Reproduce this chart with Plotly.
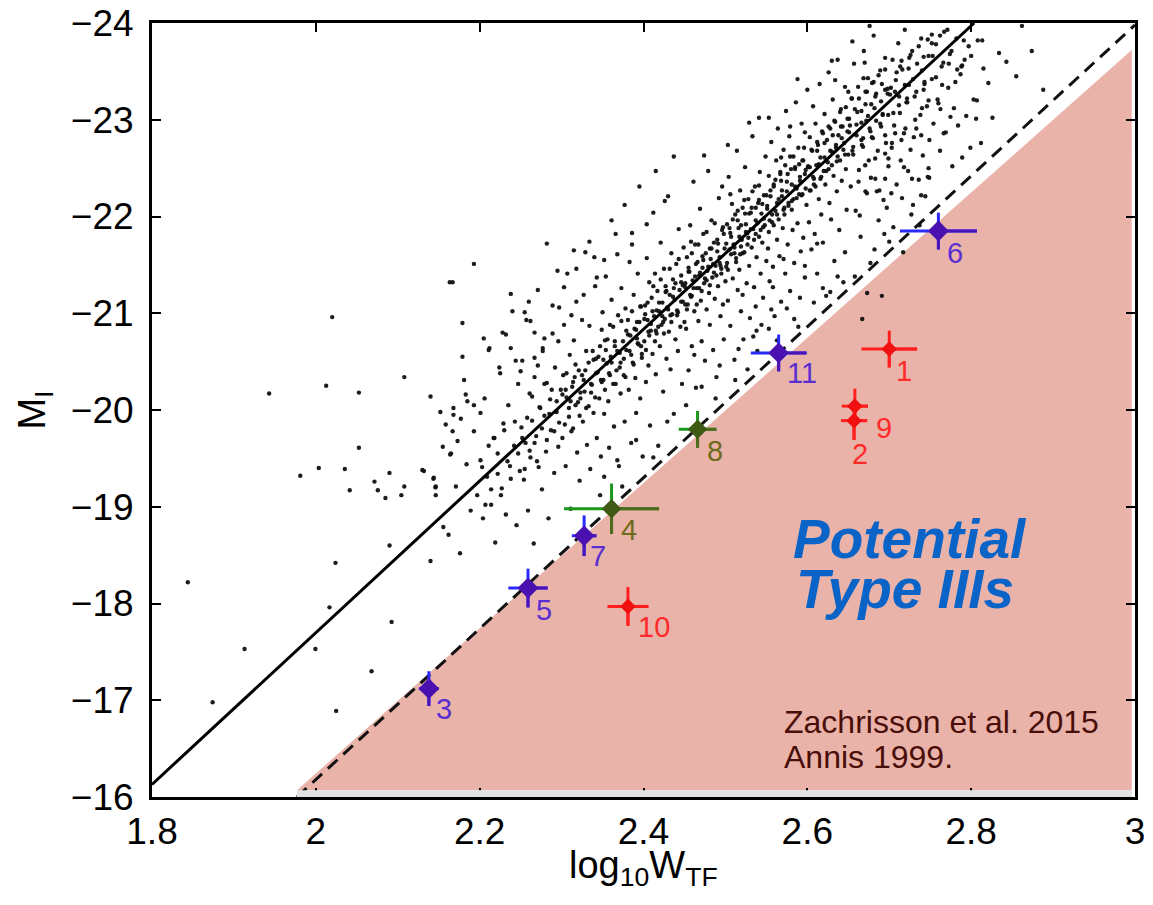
import plotly.graph_objects as go

# ---------------- data ----------------
# Tully-Fisher reference lines
SOLID_X = [1.8, 2.8037]
SOLID_M = [-16.13, -24.0]
DASH_X = [1.977, 3.0]
DASH_M = [-16.0, -23.98]

# shaded "potential Type III" region
SHADE_X = [1.977, 2.996, 2.996]
SHADE_M = [-16.07, -23.72, -16.07]

# sparse outliers, read individually
OUTLIERS = [
    (2.020, -20.96), (2.108, -20.34), (2.0126, -20.25), (1.943, -20.17), (2.0526, -20.18),
    (2.140, -20.14), (2.152, -19.98), (2.1586, -19.85), (2.0526, -19.61), (1.981, -19.32),
    (2.0036, -19.40), (2.0354, -19.39), (2.0899, -19.35), (2.130, -19.38), (2.1435, -19.29),
    (2.0716, -19.26), (2.0757, -19.17), (2.0414, -19.17), (2.085, -19.09), (2.1044, -19.12),
    (2.108, -19.21), (2.1464, -19.21), (2.1464, -19.12), (2.1556, -18.79), (2.090, -18.60),
    (2.024, -18.42), (2.140, -18.44), (2.1635, -21.32), (2.164, -19.54),
    (1.8437, -18.22), (2.0167, -17.96), (2.0925, -17.81), (1.913, -17.53), (1.9995, -17.53),
    (2.068, -17.30), (1.874, -16.98), (2.0248, -16.89),
    (2.193, -21.51), (2.167, -21.32), (2.238, -21.20), (2.260, -21.12), (2.255, -21.01),
    (2.295, -21.44), (2.282, -21.72), (2.315, -21.65), (2.340, -21.58), (2.179, -20.90),
    (2.205, -20.74), (2.179, -20.55), (2.211, -20.62), (2.168, -20.02), (2.183, -20.16),
    (2.185, -20.09), (2.193, -20.05), (2.201, -19.97), (2.177, -19.91), (2.167, -19.78),
    (2.173, -19.68), (2.165, -19.55), (2.132, -19.37), (2.144, -19.30), (2.146, -19.20),
    (2.228, -20.80), (2.232, -20.78), (2.238, -20.64), (2.224, -20.44), (2.244, -20.51),
    (2.250, -20.40), (2.267, -20.80), (2.279, -20.74), (2.267, -20.54), (2.277, -20.64),
    (2.534, -20.76), (2.553, -20.84),
]

# upper part of the cloud, read individually
UPPER = [
    (2.752, -23.88), (2.752, -23.79), (2.8135, -23.82), (2.843, -23.60), (2.855, -23.45),
    (2.807, -23.20), (2.806, -23.01), (2.7665, -22.86), (2.789, -23.56), (2.800, -23.66),
    (2.7727, -23.58), (2.7807, -23.39), (2.7645, -23.36), (2.7747, -23.03), (2.739, -22.84),
    (2.748, -22.50), (2.7488, -22.40), (2.7278, -22.39), (2.718, -22.51), (2.7389, -22.22),
    (2.7156, -22.19), (2.7025, -22.24), (2.6849, -22.26), (2.6727, -22.24), (2.6776, -22.40),
    (2.6625, -22.36), (2.695, -22.39), (2.7149, -22.79), (2.73, -22.82), (2.740, -23.12),
    (2.7625, -23.11), (2.7118, -23.15), (2.6987, -23.05), (2.7236, -23.53), (2.7134, -23.55),
    (2.742, -23.65), (2.7244, -23.64), (2.670, -23.59), (2.6686, -23.43), (2.681, -23.39),
    (2.691, -23.37), (2.6727, -23.29), (2.707, -23.29), (2.742, -23.31), (2.7217, -23.22),
    (2.748, -23.20), (2.760, -23.17), (2.7317, -23.00), (2.7197, -22.91), (2.7072, -22.86),
    (2.695, -22.84), (2.6788, -22.82), (2.6666, -22.74), (2.7033, -22.76), (2.695, -22.65),
    (2.6828, -22.60), (2.6706, -22.53), (2.699, -22.60), (2.6544, -23.22), (2.6299, -23.61),
    (2.634, -23.41), (2.650, -23.29), (2.788, -23.55),
]

# main body of the cloud (estimated positions)
CORE = [
    (2.155, -19.62), (2.162, -18.71), (2.168, -19.95), (2.171, -19.21), (2.176, -18.52),
    (2.181, -20.31), (2.184, -19.44), (2.189, -18.96), (2.193, -19.78), (2.197, -19.12),
    (2.201, -19.48), (2.204, -18.88), (2.206, -20.12), (2.209, -19.31), (2.212, -20.64),
    (2.214, -19.02), (2.217, -19.71), (2.219, -18.63), (2.222, -19.55), (2.225, -20.38),
    (2.227, -19.19), (2.229, -19.86), (2.232, -18.92), (2.235, -20.05), (2.237, -19.42),
    (2.240, -21.02), (2.242, -19.63), (2.245, -18.81), (2.247, -20.27), (2.249, -19.37),
    (2.251, -19.82), (2.252, -20.51), (2.254, -19.28), (2.256, -19.66), (2.257, -20.93),
    (2.259, -18.96), (2.261, -20.17), (2.262, -19.51), (2.264, -19.89), (2.266, -18.62),
    (2.267, -20.34), (2.269, -19.73), (2.271, -21.24), (2.272, -19.41), (2.274, -20.02),
    (2.276, -19.18), (2.277, -20.61), (2.279, -19.94), (2.281, -19.57), (2.282, -20.28),
    (2.284, -18.88), (2.286, -20.11), (2.287, -19.79), (2.289, -20.79), (2.291, -19.35),
    (2.292, -20.44), (2.294, -19.98), (2.296, -19.62), (2.297, -21.06), (2.299, -20.21),
    (2.301, -19.71), (2.302, -20.36), (2.303, -20.88), (2.305, -19.42), (2.306, -20.13),
    (2.307, -21.41), (2.309, -19.93), (2.310, -20.57), (2.311, -18.98), (2.313, -20.24),
    (2.314, -19.81), (2.315, -20.72), (2.317, -20.05), (2.318, -21.12), (2.319, -19.56),
    (2.321, -20.41), (2.322, -19.27), (2.323, -20.18), (2.325, -20.93), (2.326, -19.88),
    (2.327, -20.31), (2.329, -21.63), (2.330, -20.02), (2.331, -19.64), (2.333, -20.49),
    (2.334, -20.87), (2.335, -19.39), (2.337, -20.26), (2.338, -20.61), (2.339, -19.97),
    (2.341, -21.28), (2.342, -20.38), (2.343, -19.71), (2.345, -20.55), (2.346, -20.12),
    (2.347, -19.12), (2.349, -20.83), (2.349, -20.29), (2.350, -21.01), (2.348, -19.52),
    (2.351, -20.31), (2.352, -19.96), (2.353, -20.72), (2.354, -21.38), (2.355, -20.48),
    (2.357, -20.09), (2.358, -19.61), (2.359, -20.88), (2.360, -20.55), (2.361, -21.14),
    (2.363, -20.27), (2.364, -19.83), (2.365, -20.66), (2.366, -21.82), (2.367, -20.41),
    (2.369, -20.98), (2.370, -19.42), (2.371, -20.59), (2.372, -20.17), (2.373, -21.26),
    (2.375, -20.71), (2.376, -20.36), (2.377, -19.88), (2.378, -21.05), (2.379, -20.62),
    (2.381, -20.93), (2.382, -20.21), (2.383, -21.53), (2.384, -20.77), (2.385, -19.66),
    (2.387, -20.49), (2.388, -21.19), (2.389, -20.84), (2.390, -20.33), (2.391, -19.97),
    (2.393, -21.41), (2.394, -20.68), (2.395, -20.91), (2.396, -20.12), (2.397, -21.07),
    (2.398, -20.54), (2.399, -19.52), (2.392, -20.74), (2.386, -21.71), (2.374, -19.21),
    (2.401, -20.71), (2.402, -21.08), (2.403, -20.29), (2.404, -21.57), (2.405, -20.93),
    (2.406, -20.46), (2.407, -21.32), (2.408, -19.84), (2.409, -20.82), (2.410, -21.16),
    (2.411, -20.58), (2.412, -22.04), (2.413, -20.97), (2.414, -21.41), (2.415, -20.37),
    (2.416, -20.79), (2.417, -21.23), (2.418, -19.63), (2.419, -21.02), (2.420, -20.66),
    (2.421, -21.73), (2.422, -20.88), (2.423, -21.11), (2.424, -20.19), (2.425, -21.46),
    (2.426, -20.94), (2.427, -21.28), (2.428, -20.53), (2.429, -21.06), (2.430, -22.21),
    (2.431, -20.81), (2.432, -21.19), (2.433, -20.42), (2.434, -21.62), (2.435, -20.99),
    (2.436, -21.35), (2.437, -19.96), (2.438, -21.14), (2.439, -20.73), (2.440, -21.51),
    (2.441, -21.03), (2.442, -20.61), (2.443, -21.87), (2.444, -21.24), (2.445, -20.86),
    (2.446, -21.39), (2.447, -20.27), (2.448, -21.12), (2.449, -21.68), (2.450, -20.91),
    (2.451, -21.27), (2.452, -20.84), (2.453, -21.58), (2.454, -21.09), (2.455, -20.41),
    (2.456, -21.43), (2.457, -21.91), (2.458, -21.17), (2.459, -20.66), (2.460, -21.34),
    (2.461, -22.36), (2.462, -21.02), (2.463, -21.71), (2.464, -20.23), (2.465, -21.26),
    (2.466, -21.53), (2.467, -20.92), (2.468, -21.39), (2.469, -22.08), (2.470, -21.13),
    (2.471, -20.71), (2.472, -21.47), (2.473, -21.82), (2.474, -21.31), (2.475, -20.51),
    (2.476, -21.62), (2.477, -21.04), (2.478, -21.44), (2.479, -22.47), (2.480, -21.21),
    (2.481, -20.88), (2.482, -21.56), (2.483, -21.96), (2.484, -21.37), (2.485, -20.62),
    (2.486, -21.73), (2.487, -21.15), (2.488, -21.49), (2.489, -20.34), (2.490, -21.64),
    (2.491, -21.28), (2.492, -22.19), (2.493, -21.52), (2.494, -20.97), (2.495, -21.41),
    (2.496, -21.86), (2.497, -21.09), (2.498, -20.73), (2.499, -21.67), (2.500, -21.33),
    (2.462, -20.57), (2.474, -22.63), (2.488, -20.12), (2.496, -22.31), (2.458, -21.74),
    (2.501, -21.48), (2.502, -21.92), (2.503, -21.13), (2.504, -22.41), (2.505, -21.66),
    (2.506, -20.87), (2.507, -21.79), (2.508, -22.13), (2.509, -21.36), (2.510, -21.71),
    (2.511, -20.52), (2.512, -22.02), (2.513, -21.57), (2.514, -22.68), (2.515, -21.24),
    (2.516, -21.88), (2.517, -21.45), (2.518, -22.27), (2.519, -21.02), (2.520, -21.76),
    (2.521, -22.09), (2.522, -20.73), (2.523, -21.63), (2.524, -22.51), (2.525, -21.92),
    (2.526, -21.31), (2.527, -21.83), (2.528, -22.18), (2.529, -21.49), (2.530, -20.95),
    (2.531, -22.04), (2.532, -21.68), (2.533, -22.83), (2.534, -21.87), (2.535, -21.27),
    (2.536, -22.31), (2.537, -21.96), (2.538, -21.58), (2.539, -20.61), (2.540, -22.14),
    (2.541, -21.79), (2.542, -22.46), (2.543, -21.41), (2.544, -22.03), (2.545, -21.73),
    (2.546, -21.16), (2.547, -22.22), (2.548, -21.91), (2.549, -22.62), (2.550, -21.54),
    (2.503, -22.74), (2.512, -20.31), (2.521, -21.19), (2.529, -22.97), (2.537, -21.07),
    (2.544, -20.88), (2.506, -22.23), (2.518, -21.61), (2.527, -20.42), (2.541, -23.02),
    (2.551, -22.08), (2.552, -21.67), (2.553, -22.42), (2.554, -21.33), (2.555, -22.21),
    (2.556, -22.77), (2.557, -21.94), (2.558, -21.48), (2.559, -22.33), (2.560, -20.97),
    (2.561, -22.06), (2.562, -22.58), (2.563, -21.76), (2.564, -22.91), (2.565, -22.18),
    (2.566, -21.59), (2.567, -22.44), (2.568, -21.12), (2.569, -22.27), (2.570, -21.88),
    (2.571, -22.69), (2.572, -22.02), (2.573, -21.41), (2.574, -23.09), (2.575, -22.36),
    (2.576, -21.71), (2.577, -22.14), (2.578, -22.83), (2.579, -21.23), (2.580, -22.49),
    (2.581, -22.07), (2.582, -21.86), (2.583, -22.62), (2.584, -21.52), (2.585, -22.31),
    (2.586, -23.18), (2.587, -22.19), (2.588, -21.93), (2.589, -20.86), (2.590, -22.54),
    (2.591, -22.41), (2.592, -21.64), (2.593, -22.96), (2.594, -22.23), (2.595, -21.78),
    (2.596, -22.71), (2.597, -21.37), (2.598, -22.48), (2.599, -22.12), (2.600, -23.31),
    (2.556, -21.04), (2.563, -20.72), (2.571, -21.56), (2.579, -22.93), (2.584, -20.94),
    (2.591, -21.16), (2.597, -22.87), (2.553, -23.02), (2.568, -22.61), (2.588, -23.42),
    (2.601, -22.51), (2.602, -21.94), (2.603, -22.82), (2.604, -22.27), (2.605, -21.66),
    (2.606, -22.68), (2.607, -23.14), (2.608, -22.39), (2.609, -21.82), (2.610, -22.96),
    (2.611, -22.53), (2.612, -21.41), (2.613, -22.74), (2.614, -22.18), (2.615, -23.37),
    (2.616, -22.61), (2.617, -22.02), (2.618, -22.88), (2.619, -21.73), (2.620, -22.47),
    (2.621, -23.06), (2.622, -22.33), (2.623, -21.18), (2.624, -22.79), (2.625, -22.56),
    (2.626, -23.49), (2.627, -22.14), (2.628, -22.91), (2.629, -21.97), (2.630, -22.67),
    (2.631, -23.21), (2.632, -22.42), (2.633, -21.54), (2.634, -22.98), (2.635, -22.71),
    (2.636, -22.26), (2.637, -23.62), (2.638, -22.84), (2.639, -21.86), (2.640, -22.58),
    (2.641, -23.11), (2.642, -22.37), (2.643, -22.93), (2.644, -21.32), (2.645, -22.76),
    (2.646, -23.34), (2.647, -22.49), (2.648, -22.07), (2.649, -23.01), (2.650, -22.64),
    (2.608, -21.11), (2.619, -21.26), (2.628, -21.22), (2.637, -21.38), (2.646, -21.63),
    (2.651, -22.87), (2.653, -22.31), (2.654, -23.22), (2.656, -22.64), (2.657, -23.58),
    (2.659, -22.06), (2.660, -22.95), (2.662, -23.34), (2.663, -22.48), (2.665, -21.79),
    (2.666, -23.09), (2.668, -22.72), (2.669, -23.71), (2.671, -22.26), (2.672, -22.99),
    (2.674, -23.43), (2.675, -22.58), (2.677, -21.52), (2.678, -23.16), (2.680, -22.81),
    (2.681, -23.87), (2.683, -22.39), (2.684, -23.27), (2.686, -22.68), (2.687, -21.96),
    (2.689, -23.51), (2.690, -22.93), (2.692, -23.05), (2.693, -22.17), (2.695, -23.64),
    (2.696, -22.76), (2.698, -23.32), (2.699, -22.52), (2.700, -21.74), (2.658, -21.38),
    (2.667, -20.94), (2.673, -21.21), (2.682, -21.66), (2.691, -21.18), (2.697, -22.09),
    (2.655, -23.81), (2.664, -22.01), (2.676, -23.97), (2.688, -22.27), (2.694, -21.82),
    (2.701, -23.26), (2.703, -22.71), (2.704, -23.62), (2.706, -22.94), (2.708, -23.41),
    (2.709, -22.33), (2.711, -23.79), (2.713, -23.07), (2.714, -22.58), (2.716, -23.52),
    (2.718, -22.86), (2.719, -23.93), (2.721, -23.18), (2.723, -22.47), (2.724, -23.36),
    (2.726, -22.69), (2.728, -23.71), (2.729, -22.12), (2.731, -23.24), (2.733, -22.91),
    (2.734, -23.58), (2.736, -22.38), (2.738, -23.05), (2.739, -23.84), (2.741, -22.63),
    (2.743, -23.39), (2.744, -22.21), (2.746, -23.14), (2.748, -23.66), (2.749, -22.79),
    (2.705, -21.89), (2.717, -21.63), (2.727, -22.02), (2.737, -21.91), (2.747, -22.41),
    (2.752, -23.42), (2.754, -22.96), (2.757, -23.78), (2.759, -23.21), (2.762, -22.68),
    (2.764, -23.55), (2.767, -23.91), (2.769, -22.87), (2.772, -23.33), (2.774, -23.68),
    (2.777, -22.52), (2.779, -23.12), (2.782, -23.84), (2.784, -22.94), (2.787, -23.47),
    (2.789, -22.61), (2.792, -23.62), (2.794, -23.04), (2.797, -23.76), (2.799, -22.71),
    (2.803, -23.21), (2.808, -23.82), (2.812, -22.76), (2.815, -23.53), (2.821, -23.38),
    (2.826, -23.02), (2.834, -23.69), (2.862, -23.97), (2.874, -23.71), (2.888, -23.31),
]

# points crowding along the ridge of the cloud (estimated positions)
RIDGE = [
    (2.203, -19.41), (2.207, -19.02), (2.211, -19.63), (2.214, -19.18), (2.218, -19.71),
    (2.222, -19.34), (2.226, -19.12), (2.230, -19.79), (2.234, -19.47), (2.238, -19.29),
    (2.243, -19.88), (2.247, -19.55), (2.252, -19.71), (2.255, -19.39), (2.258, -19.92),
    (2.261, -19.58), (2.264, -20.14), (2.267, -19.66), (2.270, -19.47), (2.273, -20.03),
    (2.276, -19.81), (2.279, -20.27), (2.282, -19.69), (2.285, -19.96), (2.288, -20.21),
    (2.291, -19.78), (2.294, -20.09), (2.297, -19.87), (2.301, -20.16), (2.304, -19.85),
    (2.306, -20.38), (2.309, -20.02), (2.312, -19.78), (2.314, -20.29), (2.317, -20.47),
    (2.320, -20.08), (2.322, -19.94), (2.325, -20.36), (2.328, -20.19), (2.330, -20.61),
    (2.333, -20.04), (2.336, -20.27), (2.339, -20.52), (2.341, -20.13), (2.344, -20.39),
    (2.347, -20.66), (2.351, -20.52), (2.353, -20.21), (2.356, -20.73), (2.358, -20.38),
    (2.361, -20.49), (2.363, -20.86), (2.366, -20.27), (2.368, -20.61), (2.371, -20.44),
    (2.373, -20.92), (2.376, -20.53), (2.378, -20.34), (2.381, -20.78), (2.383, -20.61),
    (2.386, -21.02), (2.388, -20.47), (2.391, -20.83), (2.393, -20.69), (2.396, -21.07),
    (2.398, -20.58), (2.401, -20.94), (2.403, -20.62), (2.405, -21.11), (2.407, -20.77),
    (2.409, -20.89), (2.412, -21.28), (2.414, -20.71), (2.416, -21.03), (2.418, -20.86),
    (2.421, -21.35), (2.423, -20.97), (2.425, -20.79), (2.427, -21.22), (2.430, -21.04),
    (2.432, -21.46), (2.434, -20.91), (2.436, -21.17), (2.439, -21.31), (2.441, -20.98),
    (2.443, -21.56), (2.446, -21.12), (2.448, -21.29), (2.451, -21.31), (2.453, -21.04),
    (2.455, -21.47), (2.457, -21.19), (2.459, -21.62), (2.461, -21.26), (2.463, -21.38),
    (2.465, -21.09), (2.467, -21.71), (2.469, -21.42), (2.471, -21.23), (2.473, -21.55),
    (2.475, -21.36), (2.477, -21.84), (2.479, -21.48), (2.481, -21.29), (2.483, -21.67),
    (2.485, -21.51), (2.487, -21.93), (2.489, -21.39), (2.491, -21.72), (2.493, -21.58),
    (2.495, -21.46), (2.497, -21.89), (2.501, -21.72), (2.503, -21.45), (2.505, -21.88),
    (2.507, -21.61), (2.509, -21.97), (2.511, -21.68), (2.513, -21.53), (2.515, -22.06),
    (2.517, -21.79), (2.519, -21.91), (2.521, -21.62), (2.523, -22.17), (2.525, -21.84),
    (2.527, -21.71), (2.529, -22.03), (2.531, -21.87), (2.533, -22.26), (2.535, -21.76),
    (2.537, -22.09), (2.539, -21.93), (2.541, -22.32), (2.543, -21.86), (2.545, -22.13),
    (2.547, -21.98), (2.551, -22.11), (2.553, -21.84), (2.555, -22.27), (2.557, -22.02),
    (2.559, -21.91), (2.561, -22.38), (2.563, -22.14), (2.565, -21.97), (2.567, -22.46),
    (2.569, -22.21), (2.571, -22.07), (2.573, -22.53), (2.575, -22.26), (2.577, -22.11),
    (2.579, -22.62), (2.581, -22.33), (2.583, -22.18), (2.585, -22.49), (2.587, -22.29),
    (2.589, -22.71), (2.591, -22.37), (2.593, -22.22), (2.595, -22.58), (2.597, -22.44),
    (2.601, -22.52), (2.603, -22.27), (2.605, -22.69), (2.607, -22.41), (2.610, -22.31),
    (2.612, -22.77), (2.614, -22.54), (2.616, -22.39), (2.619, -22.86), (2.621, -22.61),
    (2.623, -22.47), (2.626, -22.93), (2.628, -22.68), (2.630, -22.53), (2.633, -22.99),
    (2.635, -22.74), (2.637, -22.62), (2.640, -23.08), (2.642, -22.81), (2.644, -22.69),
    (2.647, -23.13), (2.649, -22.88), (2.652, -22.94), (2.655, -22.68), (2.658, -23.11),
    (2.660, -22.84), (2.663, -23.22), (2.666, -22.97), (2.668, -22.81), (2.671, -23.29),
    (2.674, -23.04), (2.676, -22.91), (2.679, -23.38), (2.682, -23.12), (2.684, -22.99),
    (2.687, -23.46), (2.690, -23.19), (2.692, -23.06), (2.695, -23.52), (2.698, -23.27),
    (2.702, -23.33), (2.705, -23.07), (2.709, -23.49), (2.712, -23.24), (2.715, -23.61),
    (2.719, -23.36), (2.722, -23.18), (2.726, -23.67), (2.729, -23.42), (2.733, -23.29),
    (2.736, -23.76), (2.740, -23.51), (2.743, -23.37), (2.747, -23.83), (2.753, -23.66),
    (2.757, -23.44), (2.762, -23.87), (2.766, -23.59), (2.771, -23.93), (2.776, -23.71),
    (2.783, -23.52), (2.791, -23.82),
    # upper-left fringe
    (2.262, -20.92), (2.271, -20.46), (2.289, -21.08), (2.296, -20.71), (2.303, -21.27),
    (2.312, -20.98), (2.318, -21.46), (2.327, -21.19), (2.334, -21.74), (2.343, -21.37),
    (2.352, -21.55), (2.361, -21.96), (2.368, -21.61), (2.377, -22.12), (2.386, -21.83),
    (2.395, -22.31), (2.404, -21.92), (2.415, -22.47), (2.426, -22.16), (2.437, -22.62),
    # lower fringe, above the dashed line
    (2.352, -19.31), (2.368, -19.48), (2.391, -19.69), (2.412, -19.51), (2.429, -19.88),
    (2.452, -20.05), (2.471, -20.24), (2.493, -20.46), (2.516, -20.63), (2.538, -20.82),
    (2.558, -21.27), (2.575, -21.05), (2.597, -21.49), (2.612, -21.72),
    # densest stretch of the ridge
    (2.305, -20.21), (2.311, -20.09), (2.316, -20.34), (2.323, -20.12), (2.329, -20.41),
    (2.336, -20.18), (2.342, -20.53), (2.348, -20.31), (2.354, -20.62), (2.359, -20.36),
    (2.365, -20.71), (2.372, -20.49), (2.379, -20.82), (2.385, -20.57), (2.392, -20.91),
    (2.397, -20.66), (2.402, -20.99), (2.406, -20.81), (2.411, -21.02), (2.415, -20.82),
    (2.419, -21.11), (2.424, -20.91), (2.428, -21.23), (2.433, -20.98), (2.437, -21.26),
    (2.442, -21.01), (2.446, -21.32), (2.451, -21.09), (2.455, -21.43), (2.459, -21.18),
    (2.464, -21.51), (2.468, -21.26), (2.472, -21.59), (2.477, -21.34), (2.481, -21.67),
    (2.486, -21.42), (2.490, -21.76), (2.494, -21.49), (2.498, -21.82), (2.502, -21.52),
    (2.506, -21.83), (2.511, -21.62), (2.515, -21.96), (2.519, -21.69), (2.524, -22.03),
    (2.528, -21.78), (2.532, -22.09), (2.537, -21.82), (2.541, -22.17), (2.546, -21.89),
    (2.550, -22.22), (2.554, -21.96), (2.559, -22.31), (2.563, -22.02), (2.568, -22.37),
    (2.572, -22.09), (2.576, -22.44), (2.581, -22.16), (2.585, -22.51), (2.590, -22.23),
    (2.594, -22.58), (2.598, -22.29), (2.603, -22.51), (2.608, -22.33), (2.612, -22.68),
    (2.617, -22.41), (2.621, -22.76), (2.626, -22.49), (2.631, -22.84), (2.636, -22.57),
    (2.641, -22.93), (2.646, -22.64), (2.651, -23.01), (2.656, -22.72), (2.661, -23.08),
    (2.666, -22.79), (2.671, -23.16), (2.677, -22.88), (2.683, -23.24), (2.689, -22.96),
    (2.695, -23.31),
]

# the eleven labelled galaxies with error bars
GAL_LABEL = ["1", "2", "3", "4", "5", "6", "7", "8", "9", "10", "11"]
GAL_X = [2.700, 2.657, 2.138, 2.361, 2.259, 2.760, 2.3275, 2.466, 2.658, 2.381, 2.565]
GAL_M = [-20.63, -19.89, -17.12, -18.98, -18.16, -21.85, -18.70, -19.80, -20.04, -17.97, -20.59]
GAL_XERR = [0.034, 0.016, 0.012, 0.058, 0.024, 0.047, 0.015, 0.023, 0.016, 0.025, 0.034]
GAL_MERR = [0.19, 0.20, 0.18, 0.26, 0.20, 0.19, 0.21, 0.19, 0.18, 0.20, 0.19]
GAL_GROUP = ["red", "red", "blue", "green", "blue", "blue", "blue", "green", "red", "red", "blue"]

X_TICKS = [1.8, 2.0, 2.2, 2.4, 2.6, 2.8, 3.0]
M_TICKS = [-24, -23, -22, -21, -20, -19, -18, -17, -16]

# ---------------- styles ----------------
FONT = "Liberation Sans, Arial, Helvetica, sans-serif"
PALETTE = {
    "red":   dict(bar1="#ff1f1f", bar2="#ff1f1f", marker="#f01010", text="#ff2a2a", size=12),
    "blue":  dict(bar1="#2a2aff", bar2="#4a14b8", marker="#4a10b0", text="#5a2ed0", size=16),
    "green": dict(bar1="#1c961c", bar2="#4f6a1e", marker="#3f5a14", text="#6f6c1c", size=15),
}
# pixel offsets (right, down) of each number label from its galaxy
LABEL_OFFSET = {"1": (15, 22), "2": (6, 33), "3": (15, 20), "4": (17, 21), "5": (16, 22),
                "6": (17, 22), "7": (14, 20), "8": (17, 22), "9": (29, 22), "10": (26, 21),
                "11": (23, 20)}

fig = go.Figure()

# shaded region
fig.add_trace(go.Scatter(x=SHADE_X + [SHADE_X[0]], y=SHADE_M + [SHADE_M[0]], mode="lines",
                         fill="toself", fillcolor="#e9b3aa", line=dict(width=0),
                         hoverinfo="skip", showlegend=False))
fig.add_shape(type="rect", xref="x", yref="y", x0=SHADE_X[0], x1=SHADE_X[1],
              y0=M_TICKS[-1], y1=SHADE_M[0], fillcolor="#e2e2e2", line=dict(width=0),
              layer="above")

# cloud of galaxies
cloud = OUTLIERS + UPPER + CORE + RIDGE
fig.add_trace(go.Scatter(x=[p[0] for p in cloud], y=[p[1] for p in cloud], mode="markers",
                         marker=dict(size=4.4, color="#111111", opacity=0.95, line=dict(width=0)),
                         hoverinfo="skip", showlegend=False))

# relation lines
fig.add_trace(go.Scatter(x=SOLID_X, y=SOLID_M, mode="lines",
                         line=dict(color="black", width=3), showlegend=False))
fig.add_trace(go.Scatter(x=DASH_X, y=DASH_M, mode="lines",
                         line=dict(color="#111111", width=3, dash="13px,8px"), showlegend=False))

# error-bar points
for grp in ["blue", "green", "red"]:
    idx = [i for i, g in enumerate(GAL_GROUP) if g == grp]
    st = PALETTE[grp]
    xs = [GAL_X[i] for i in idx]
    ms = [GAL_M[i] for i in idx]
    xe = [GAL_XERR[i] for i in idx]
    me = [GAL_MERR[i] for i in idx]
    zeros = [0] * len(idx)
    fig.add_trace(go.Scatter(
        x=xs, y=ms, mode="markers", marker=dict(size=1, color=st["bar1"], opacity=0),
        error_x=dict(type="data", array=xe, arrayminus=xe, color=st["bar1"], thickness=3, width=0),
        error_y=dict(type="data", array=me, arrayminus=me, color=st["bar1"], thickness=3, width=0),
        showlegend=False, hoverinfo="skip"))
    fig.add_trace(go.Scatter(
        x=xs, y=ms, mode="markers",
        marker=dict(symbol="diamond", size=st["size"], color=st["marker"], line=dict(width=0)),
        error_x=dict(type="data", array=xe, arrayminus=zeros, color=st["bar2"], thickness=3, width=0),
        error_y=dict(type="data", array=me, arrayminus=zeros, color=st["bar2"], thickness=3, width=0),
        showlegend=False, hoverinfo="skip"))

for lab, x, m, grp in zip(GAL_LABEL, GAL_X, GAL_M, GAL_GROUP):
    dx, dy = LABEL_OFFSET[lab]
    fig.add_annotation(x=x, y=m, xref="x", yref="y", text=lab, showarrow=False,
                       xshift=dx, yshift=-dy, xanchor="center", yanchor="middle",
                       font=dict(family=FONT, size=29, color=PALETTE[grp]["text"]))

# text annotations
fig.add_annotation(x=2.580, y=-18.67, xref="x", yref="y", text="Potential", showarrow=False,
                   xanchor="left", yanchor="middle",
                   font=dict(family=FONT, size=55, color="#0a64c8", weight="bold", style="italic"))
fig.add_annotation(x=2.584, y=-18.15, xref="x", yref="y", text="Type IIIs", showarrow=False,
                   xanchor="left", yanchor="middle",
                   font=dict(family=FONT, size=55, color="#0a64c8", weight="bold", style="italic"))
fig.add_annotation(x=2.5687, y=-16.78, xref="x", yref="y", text="Zachrisson et al. 2015",
                   showarrow=False, xanchor="left", yanchor="middle",
                   font=dict(family=FONT, size=32, color="#4a0e08"))
fig.add_annotation(x=2.5687, y=-16.41, xref="x", yref="y", text="Annis 1999.",
                   showarrow=False, xanchor="left", yanchor="middle",
                   font=dict(family=FONT, size=32, color="#4a0e08"))

# x-axis title (placed as annotation for exact vertical position)
fig.add_annotation(x=0.5, y=-0.058, xref="paper", yref="paper",
                   text="log<sub>10</sub>W<sub>TF</sub>", showarrow=False,
                   xanchor="center", yanchor="top",
                   font=dict(family=FONT, size=38, color="black"))

axis_common = dict(showgrid=False, zeroline=False, showline=True, linecolor="black",
                   linewidth=3, mirror="ticks", ticks="inside", ticklen=9, tickwidth=2,
                   tickcolor="black", automargin=False,
                   tickfont=dict(family=FONT, size=37, color="black"))
fig.update_xaxes(range=[X_TICKS[0], X_TICKS[-1]], tickvals=X_TICKS,
                 ticktext=[f"{v:g}" for v in X_TICKS], ticklabelstandoff=0,
                 **axis_common)
fig.update_yaxes(range=[M_TICKS[-1], M_TICKS[0]], tickvals=M_TICKS,
                 ticktext=[f"\u2212{abs(v)}" for v in M_TICKS], ticklabelstandoff=8,
                 title=dict(text="M<sub>I</sub>", standoff=14,
                            font=dict(family=FONT, size=38, color="black")),
                 **axis_common)

fig.update_layout(width=1153, height=905, margin=dict(l=152, r=18, t=23, b=108),
                  plot_bgcolor="white", paper_bgcolor="white", showlegend=False)

fig.write_html("out.html")
